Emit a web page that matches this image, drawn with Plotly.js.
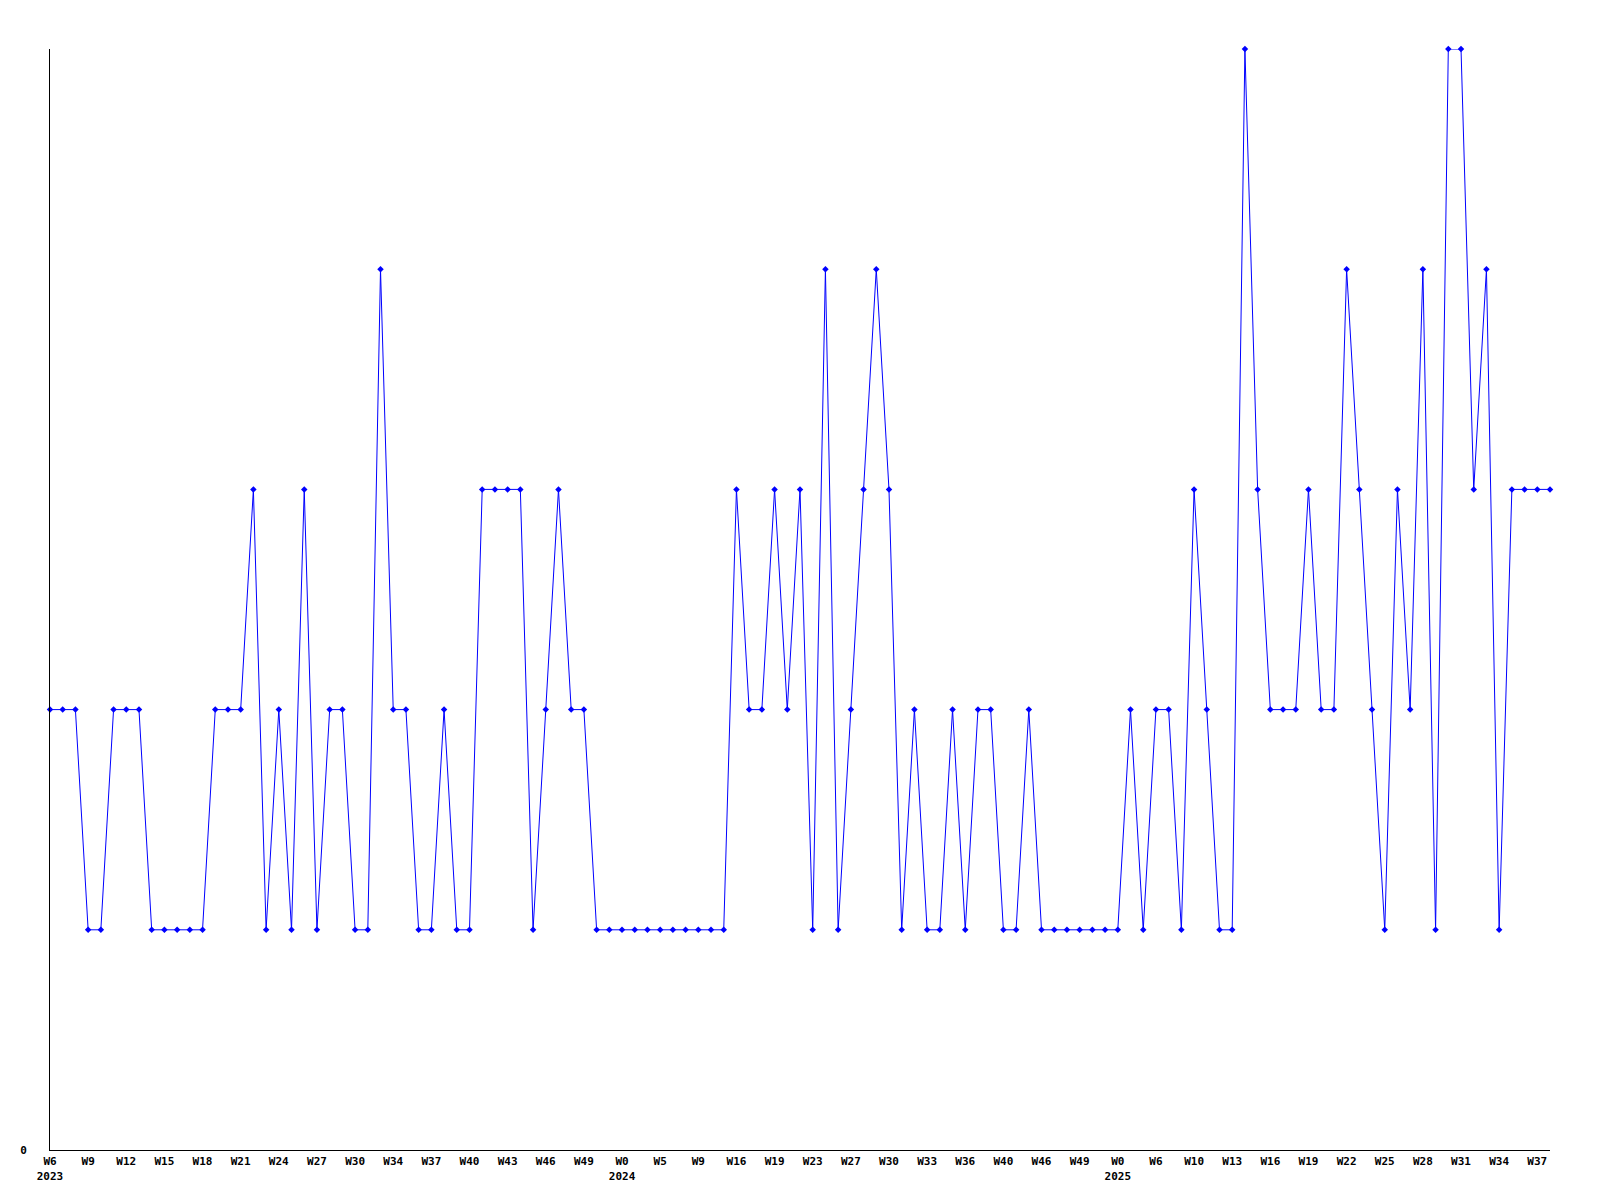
<!DOCTYPE html>
<html>
<head>
<meta charset="utf-8">
<script src="https://cdn.plot.ly/plotly-3.0.1.min.js"></script>
<style>html,body{margin:0;padding:0;background:#fff}</style>
</head>
<body>
<div id="chart" style="width:1600px;height:1200px"></div>
<script>
// weekly values, first point = 2023 W6
const values = [
  2,2,2,1,1,2,2,2,1,1,
  1,1,1,2,2,2,3,1,2,1,
  3,1,2,2,1,1,4,2,2,1,
  1,2,1,1,3,3,3,3,1,2,
  3,2,2,1,1,1,1,1,1,1,
  1,1,1,1,3,2,2,3,2,3,
  1,4,1,2,3,4,3,1,2,1,
  1,2,1,2,2,1,1,2,1,1,
  1,1,1,1,1,2,1,2,2,1,
  3,2,1,1,5,3,2,2,2,3,
  2,2,4,3,2,1,3,2,4,1,
  5,5,3,4,1,3,3,3,3
];
// tick labels, one every 3 points
const weekLabels = [
  "W6","W9","W12","W15","W18","W21","W24","W27","W30","W34",
  "W37","W40","W43","W46","W49","W0","W5","W9","W16","W19",
  "W23","W27","W30","W33","W36","W40","W46","W49","W0","W6",
  "W10","W13","W16","W19","W22","W25","W28","W31","W34","W37"
];
const yearLabels = {0: "2023", 15: "2024", 28: "2025"};
const tickStep = 3;

const xs = values.map((_, i) => i);
const tickvals = weekLabels.map((_, k) => k * tickStep);
const ticktext = weekLabels.map((w, k) => yearLabels[k] ? w + "<br>" + yearLabels[k] : w);

const font = {family: "DejaVu Sans Mono", size: 11, color: "#000", weight: "bold"};

Plotly.newPlot("chart", [{
  x: xs, y: values, type: "scatter", mode: "lines+markers",
  line: {color: "#0000ff", width: 1},
  marker: {color: "#0000ff", symbol: "diamond", size: 5, line: {width: 0}},
  cliponaxis: false, hoverinfo: "none"
}], {
  width: 1600, height: 1200,
  margin: {l: 50, r: 50, t: 49, b: 50, pad: 0},
  paper_bgcolor: "#fff", plot_bgcolor: "#fff",
  showlegend: false,
  xaxis: {
    range: [0, values.length - 1], showgrid: false, zeroline: false,
    showline: true, linecolor: "#000", linewidth: 1,
    tickmode: "array", tickvals: tickvals, ticktext: ticktext,
    ticks: "", tickfont: font, tickangle: 0, ticklabelstandoff: 1
  },
  yaxis: {
    range: [0, 5], showgrid: false, zeroline: false,
    showline: true, linecolor: "#000", linewidth: 1,
    tickmode: "array", tickvals: [0], ticktext: ["0"],
    ticks: "", tickfont: font, ticklabelstandoff: 20
  }
}, {staticPlot: true});
</script>
</body>
</html>
